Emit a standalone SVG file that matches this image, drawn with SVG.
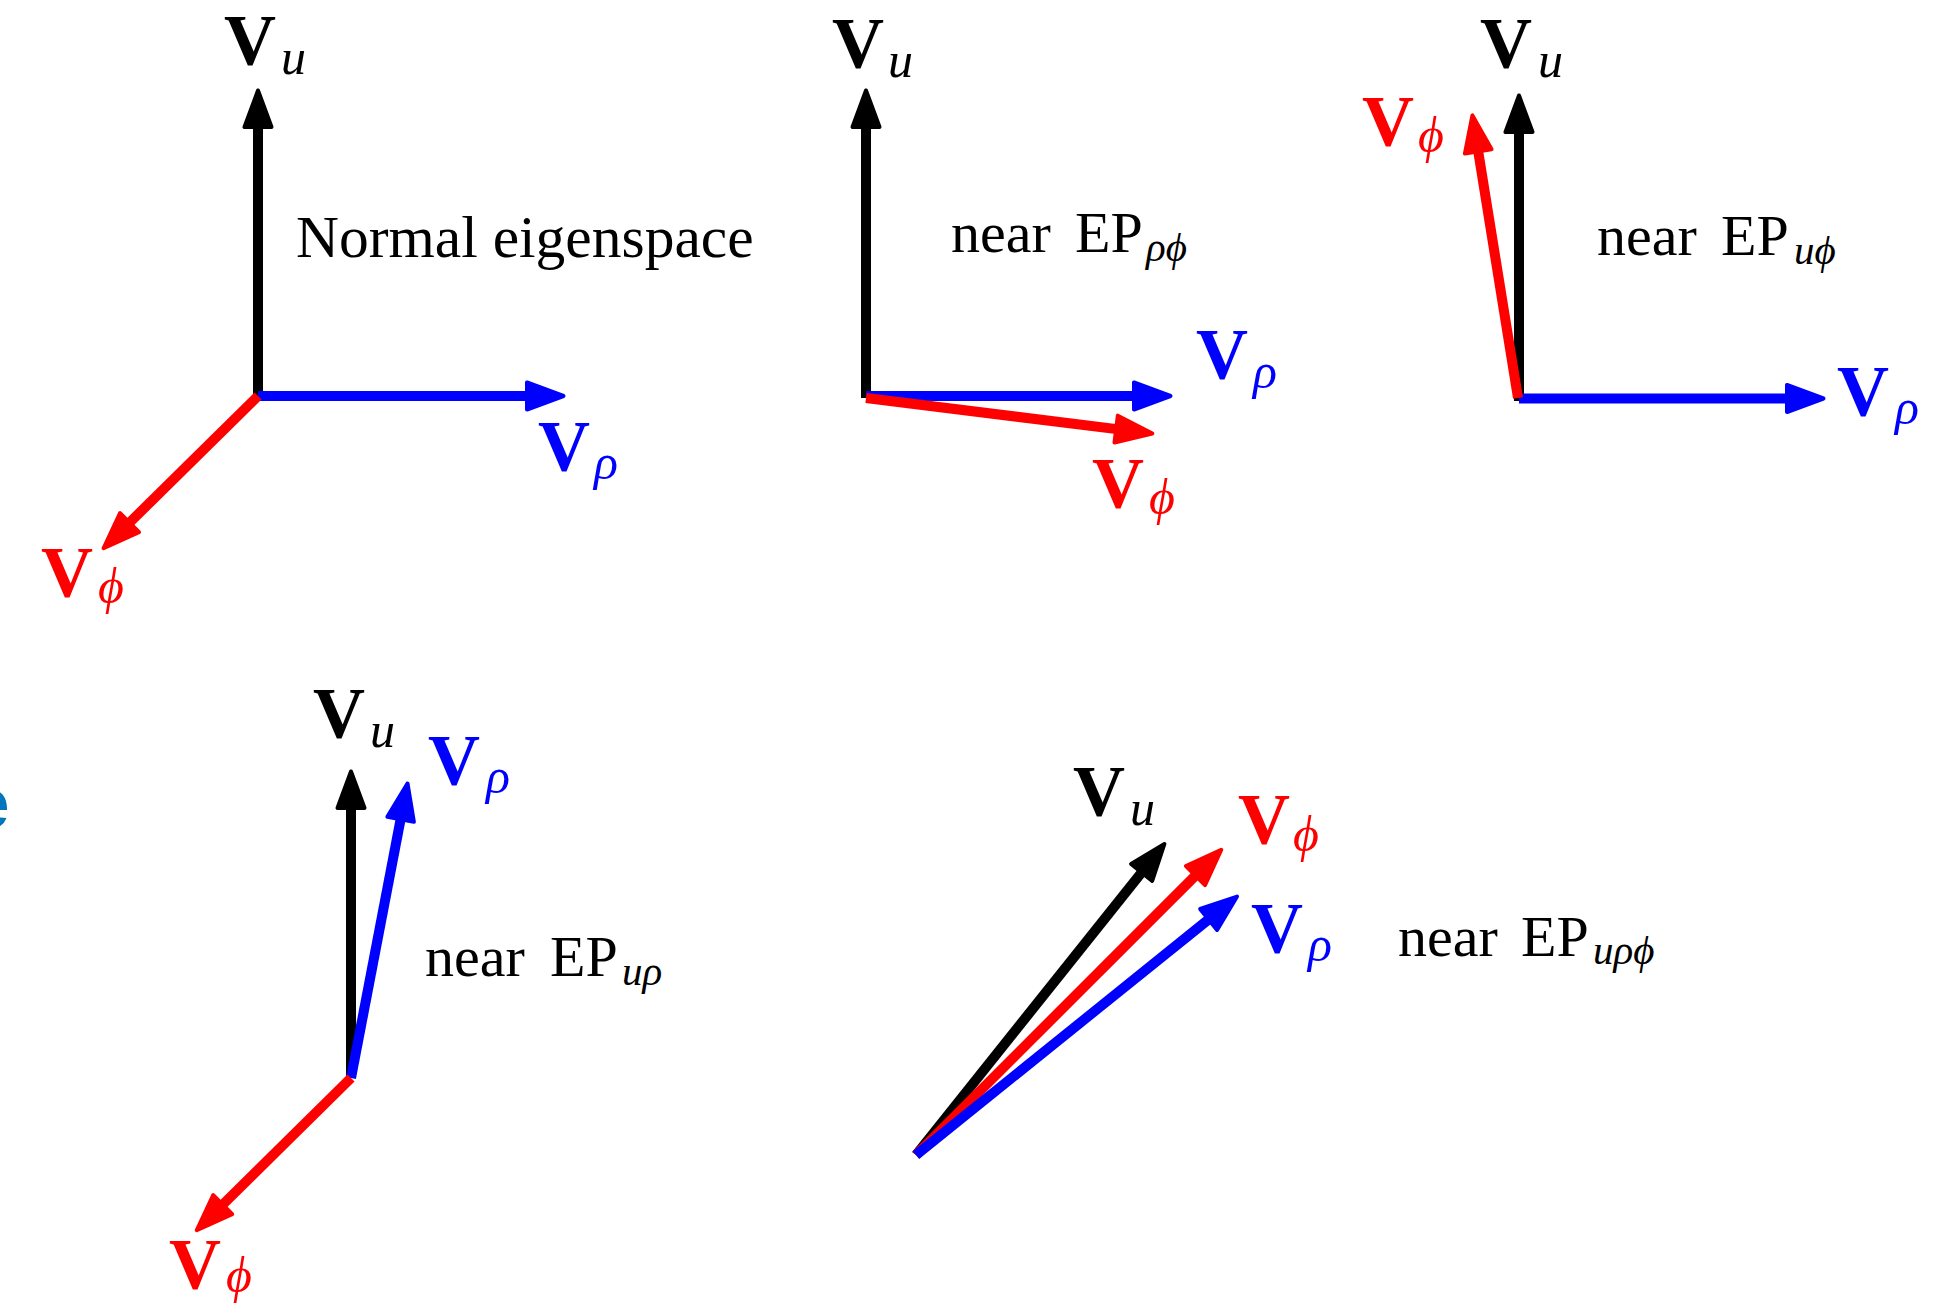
<svg xmlns="http://www.w3.org/2000/svg" width="1947" height="1303" viewBox="0 0 1947 1303">
<style>
.v{font-family:"Liberation Serif","DejaVu Serif",serif;font-weight:bold;font-size:72px}
.s{font-family:"Liberation Serif","DejaVu Serif",serif;font-style:italic;font-size:50px}
.t{font-family:"Liberation Serif","DejaVu Serif",serif;font-size:58px;fill:#000}
.tl{font-size:59.5px}
.ts{font-family:"Liberation Serif","DejaVu Serif",serif;font-style:italic;font-size:41px}
.k{fill:#000}.r{fill:#ff0000}.b{fill:#0000ff}
.ln{fill:none;stroke-width:10;stroke-linecap:butt}
.lk{stroke:#000;marker-end:url(#ak)}
.lr{stroke:#ff0000;marker-end:url(#ar)}
.lb{stroke:#0000ff;marker-end:url(#ab)}
</style>
<defs>
<marker id="ak" markerUnits="userSpaceOnUse" viewBox="-30 -25 60 50" markerWidth="60" markerHeight="50" refX="0" refY="0" orient="auto" overflow="visible">
<path d="M17.5,0 L-19,-13.5 L-19,13.5 Z" fill="#000" stroke="#000" stroke-width="4" stroke-linejoin="round"/>
</marker>
<marker id="ar" markerUnits="userSpaceOnUse" viewBox="-30 -25 60 50" markerWidth="60" markerHeight="50" refX="0" refY="0" orient="auto" overflow="visible">
<path d="M17.5,0 L-19,-13.5 L-19,13.5 Z" fill="#ff0000" stroke="#ff0000" stroke-width="4" stroke-linejoin="round"/>
</marker>
<marker id="ab" markerUnits="userSpaceOnUse" viewBox="-30 -25 60 50" markerWidth="60" markerHeight="50" refX="0" refY="0" orient="auto" overflow="visible">
<path d="M17.5,0 L-19,-13.5 L-19,13.5 Z" fill="#0000ff" stroke="#0000ff" stroke-width="4" stroke-linejoin="round"/>
</marker>
</defs>
<rect width="1947" height="1303" fill="#fff"/>

<g id="connectors">
<!-- panel 1 -->
<line class="ln lk" x1="258" y1="401" x2="258" y2="108"/>
<line class="ln lb" x1="258" y1="396" x2="546" y2="396"/>
<line class="ln lr" x1="258" y1="396" x2="116" y2="536"/>
<!-- panel 2 -->
<line class="ln lk" x1="866" y1="398" x2="866" y2="108"/>
<line class="ln lb" x1="866" y1="396" x2="1153" y2="396"/>
<line class="ln lr" x1="866" y1="398" x2="1135" y2="431.4"/>
<!-- panel 3 -->
<line class="ln lk" x1="1519" y1="401" x2="1519" y2="113"/>
<line class="ln lb" x1="1519" y1="398.5" x2="1806" y2="398.5"/>
<line class="ln lr" x1="1518" y1="398" x2="1475.2" y2="132.7"/>
<!-- panel 4 -->
<line class="ln lk" x1="351" y1="1078" x2="351" y2="789"/>
<line class="ln lb" x1="351" y1="1078" x2="404.2" y2="800.6"/>
<line class="ln lr" x1="351" y1="1078" x2="209.2" y2="1218"/>
<!-- panel 5 -->
<line class="ln lk" x1="916" y1="1155" x2="1153.5" y2="857.6"/>
<line class="ln lr" x1="916" y1="1155" x2="1208.9" y2="862.1"/>
<line class="ln lb" x1="916" y1="1155" x2="1223.4" y2="907.5"/>
</g>

<g id="p1-vu"><text class="v k" x="224" y="64">V</text><text class="s k" x="281" y="74">u</text></g>
<g id="p1-text"><text class="t tl" x="296" y="257">Normal eigenspace</text></g>
<g id="p1-vrho"><text class="v b" x="538" y="470">V</text><text class="s b" x="594" y="479">ρ</text></g>
<g id="p1-vphi"><text class="v r" x="41" y="596">V</text><text class="s r" x="98" y="603">ϕ</text></g>

<g id="p2-vu"><text class="v k" x="832" y="67">V</text><text class="s k" x="888" y="77">u</text></g>
<g id="p2-text"><text class="t" x="951" y="252">near</text><text class="t" x="1075" y="252">EP</text><text class="ts" x="1146" y="261">ρϕ</text></g>
<g id="p2-vrho"><text class="v b" x="1196" y="378">V</text><text class="s b" x="1253" y="388">ρ</text></g>
<g id="p2-vphi"><text class="v r" x="1092" y="507">V</text><text class="s r" x="1149" y="514">ϕ</text></g>

<g id="p3-vu"><text class="v k" x="1480" y="67">V</text><text class="s k" x="1538" y="77">u</text></g>
<g id="p3-vphi"><text class="v r" x="1362" y="145">V</text><text class="s r" x="1418" y="152">ϕ</text></g>
<g id="p3-text"><text class="t" x="1597" y="255">near</text><text class="t" x="1721" y="255">EP</text><text class="ts" x="1794" y="264">uϕ</text></g>
<g id="p3-vrho"><text class="v b" x="1837" y="415">V</text><text class="s b" x="1895" y="424">ρ</text></g>

<g id="p4-vu"><text class="v k" x="313" y="737">V</text><text class="s k" x="370" y="747">u</text></g>
<g id="p4-vrho"><text class="v b" x="428" y="784">V</text><text class="s b" x="486" y="793">ρ</text></g>
<g id="p4-text"><text class="t" x="425" y="976">near</text><text class="t" x="550" y="976">EP</text><text class="ts" x="622" y="985">uρ</text></g>
<g id="p4-vphi"><text class="v r" x="169" y="1288">V</text><text class="s r" x="226" y="1292">ϕ</text></g>

<g id="p5-vu"><text class="v k" x="1073" y="815">V</text><text class="s k" x="1130" y="825">u</text></g>
<g id="p5-vphi"><text class="v r" x="1238" y="843">V</text><text class="s r" x="1293" y="851">ϕ</text></g>
<g id="p5-vrho"><text class="v b" x="1251" y="952">V</text><text class="s b" x="1308" y="961">ρ</text></g>
<g id="p5-text"><text class="t" x="1398" y="956">near</text><text class="t" x="1521" y="956">EP</text><text class="ts" x="1593" y="964">uρϕ</text></g>

<g id="edge-fragment"><text x="-31" y="828" font-family="Liberation Sans, sans-serif" font-weight="bold" font-size="73" fill="#0077bb">e</text></g>
</svg>
